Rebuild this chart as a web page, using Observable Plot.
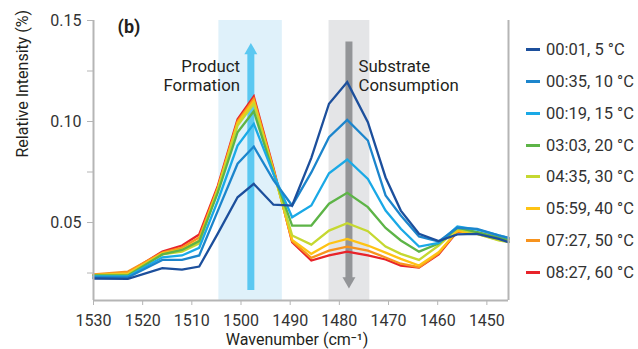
<!DOCTYPE html>
<html><head><meta charset="utf-8">
<script src="https://cdn.jsdelivr.net/npm/d3@7"></script>
<script src="https://cdn.jsdelivr.net/npm/@observablehq/plot@0.6"></script>
<style>
html,body{margin:0;padding:0;background:#fff;}
#wrap{position:relative;width:638px;height:349px;font-family:Roboto,"Open Sans",sans-serif;}
#legend{position:absolute;left:526px;top:0;}
.row{position:absolute;left:0;white-space:nowrap;font-size:16.5px;color:#333;display:flex;align-items:center;height:20px;margin-top:-10px;}
.sw{width:14px;height:3px;margin-right:6px;}
</style></head><body><div id="wrap"><div id="legend"></div></div>
<script>
// ---- data ----
const wavenumber = [1530, 1523, 1516, 1512, 1508.5, 1504.7, 1500.7, 1497.4, 1493.4, 1489.6, 1485.7, 1482.1, 1478.4, 1474.2, 1470.6, 1467.5, 1463.8, 1459.8, 1456, 1452, 1447.6, 1445.6];
const seriesNames = ["00:01, 5 °C", "00:35, 10 °C", "00:19, 15 °C", "03:03, 20 °C", "04:35, 30 °C", "05:59, 40 °C", "07:27, 50 °C", "08:27, 60 °C"];
const seriesColors = ["#1c4f9c", "#1c85cc", "#1aa9e6", "#5db447", "#c5d831", "#fec314", "#f7931e", "#e8232a"];
const s_0001 = [0.0223, 0.0221, 0.0274, 0.0267, 0.0282, 0.0446, 0.0625, 0.0691, 0.0588, 0.0584, 0.0820, 0.1088, 0.1195, 0.0997, 0.0723, 0.0559, 0.0444, 0.0408, 0.0441, 0.0444, 0.0419, 0.0403];
const s_0035 = [0.0228, 0.0228, 0.0315, 0.0315, 0.0337, 0.0559, 0.0791, 0.0876, 0.0710, 0.0584, 0.0748, 0.0922, 0.1008, 0.0906, 0.0634, 0.0535, 0.0431, 0.0406, 0.0474, 0.0469, 0.0436, 0.0424];
const s_0019 = [0.0233, 0.0233, 0.0328, 0.0337, 0.0375, 0.0609, 0.0881, 0.0989, 0.0741, 0.0526, 0.0584, 0.0744, 0.0812, 0.0716, 0.0559, 0.0469, 0.0381, 0.0399, 0.0480, 0.0465, 0.0436, 0.0424];
const s_0303 = [0.0238, 0.0238, 0.0342, 0.0364, 0.0408, 0.0649, 0.0947, 0.1051, 0.0745, 0.0485, 0.0485, 0.0593, 0.0647, 0.0576, 0.0473, 0.0411, 0.0356, 0.0396, 0.0475, 0.0452, 0.0424, 0.0414];
const s_0435 = [0.0240, 0.0243, 0.0342, 0.0356, 0.0396, 0.0663, 0.0980, 0.1088, 0.0748, 0.0436, 0.0391, 0.0460, 0.0497, 0.0457, 0.0381, 0.0345, 0.0315, 0.0386, 0.0470, 0.0444, 0.0411, 0.0403];
const s_0559 = [0.0240, 0.0248, 0.0347, 0.0366, 0.0411, 0.0668, 0.0992, 0.1100, 0.0755, 0.0414, 0.0345, 0.0395, 0.0419, 0.0386, 0.0351, 0.0320, 0.0287, 0.0353, 0.0457, 0.0444, 0.0414, 0.0407];
const s_0727 = [0.0243, 0.0257, 0.0351, 0.0376, 0.0426, 0.0673, 0.1001, 0.1112, 0.0762, 0.0408, 0.0325, 0.0361, 0.0381, 0.0361, 0.0327, 0.0296, 0.0279, 0.0347, 0.0460, 0.0452, 0.0427, 0.0419];
const s_0827 = [0.0240, 0.0252, 0.0356, 0.0386, 0.0441, 0.0683, 0.1011, 0.1124, 0.0770, 0.0403, 0.0312, 0.0337, 0.0356, 0.0337, 0.0317, 0.0287, 0.0277, 0.0342, 0.0455, 0.0450, 0.0426, 0.0418];
const seriesValues = [s_0001, s_0035, s_0019, s_0303, s_0435, s_0559, s_0727, s_0827];

const xTicks = [1530, 1520, 1510, 1500, 1490, 1480, 1470, 1460, 1450];
const yTicks = [0.05, 0.10, 0.15];
const yMinorTicks = [0.025, 0.075, 0.125];
const xDomain = [1530, 1445.6];
const yDomain = [0.0114, 0.15];

// annotation bands / arrows / labels
const bands = [
  {x1: 1504.5, x2: 1491.6, fill: "#dff1fa"},
  {x1: 1482.1, x2: 1473.8, fill: "#e4e5e7"}
];
const arrowShafts = [
  {x: 1498.0, y1: 0.0163, y2: 0.1342, color: "#5bc8f1"},
  {x: 1478.05, y1: 0.0223, y2: 0.1393, color: "#939598"}
];
const arrowHeads = [
  {x: 1498.0, y: 0.1352, rotate: 0, color: "#5bc8f1"},
  {x: 1478.05, y: 0.0210, rotate: 180, color: "#939598"}
];
const noteLeft = [{text: "Product\nFormation", x: 1500.2, y: 0.1228}];
const noteRight = [{text: "Substrate\nConsumption", x: 1476.1, y: 0.1228}];
const panelLabel = [{text: "(b)", x: 1525.1, y: 0.1465}];

// long table, drawn red first so the dark blue ends on top
const rows = [];
for (let s = seriesNames.length - 1; s >= 0; s--) {
  wavenumber.forEach((w, i) => rows.push({series: seriesNames[s], wn: w, v: seriesValues[s][i]}));
}

const axisGray = "#b5b5b5";
const chart = Plot.plot({
  width: 638, height: 349,
  marginLeft: 93, marginRight: 130, marginTop: 20, marginBottom: 49,
  style: {fontFamily: "Roboto, 'Open Sans', sans-serif", fontSize: "16px", color: "#333", background: "transparent", overflow: "visible"},
  x: {domain: xDomain},
  y: {domain: yDomain},
  color: {domain: seriesNames, range: seriesColors},
  marks: [
    Plot.rect(bands, {x1: "x1", x2: "x2", y1: yDomain[0], y2: yDomain[1], fill: d => d.fill}),
    Plot.ruleX(arrowShafts, {x: "x", y1: "y1", y2: "y2", stroke: d => d.color, strokeWidth: 7}),
    Plot.dot(arrowHeads, {x: "x", y: "y", symbol: "triangle", r: 4.8, fill: d => d.color, rotate: "rotate"}),
    Plot.line(rows, {x: "wn", y: "v", z: "series", stroke: "series", strokeWidth: 2.3, strokeLinejoin: "miter", strokeMiterlimit: 4}),
    Plot.ruleY([yDomain[0]], {stroke: axisGray, strokeWidth: 2}),
    Plot.ruleX([xDomain[0], xDomain[1]], {stroke: axisGray, strokeWidth: 2}),
    Plot.axisX({ticks: xTicks, tickFormat: d => String(d), tickSize: 5, tickPadding: 9, stroke: axisGray, fill: "#333", label: null, fontSize: 16}),
    Plot.axisY({ticks: yTicks, tickFormat: d => d.toFixed(2), tickSize: 6, tickPadding: 6, stroke: axisGray, fill: "#333", label: null, fontSize: 16}),
    Plot.axisY({ticks: yMinorTicks, tickFormat: () => "", tickSize: 6, stroke: axisGray, label: null}),
    Plot.text(noteLeft, {x: "x", y: "y", text: "text", textAnchor: "end", lineAnchor: "middle", lineHeight: 1.1, fontSize: 16.8, fill: "#231f20"}),
    Plot.text(noteRight, {x: "x", y: "y", text: "text", textAnchor: "start", lineAnchor: "middle", lineHeight: 1.1, fontSize: 16.8, fill: "#231f20"}),
    Plot.text(panelLabel, {x: "x", y: "y", text: "text", textAnchor: "start", fontSize: 18, fontWeight: "bold", fill: "#231f20"}),
    Plot.text(["Wavenumber (cm⁻¹)"], {frameAnchor: "bottom", dy: 39, dx: -4, lineAnchor: "middle", fontSize: 16, fill: "#231f20"}),
    Plot.text(["Relative Intensity (%)"], {frameAnchor: "left", dx: -71, dy: -3, rotate: -90, fontSize: 16, fill: "#231f20"})
  ]
});
document.getElementById("wrap").prepend(chart);

// legend (right side)
const legend = document.getElementById("legend");
seriesNames.forEach((name, i) => {
  const row = document.createElement("div");
  row.className = "row";
  row.style.top = (49.3 + 31.9 * i) + "px";
  const sw = document.createElement("span");
  sw.className = "sw";
  sw.style.background = seriesColors[i];
  const t = document.createElement("span");
  t.textContent = name;
  row.append(sw, t);
  legend.append(row);
});
</script></body></html>
